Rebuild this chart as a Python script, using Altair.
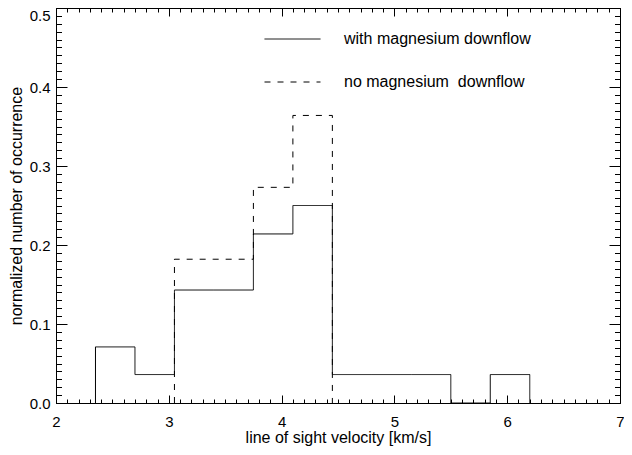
import altair as alt
import pandas as pd

# ---- data ----
SERIES = ["with magnesium downflow", "no magnesium\u00a0 downflow"]
EDGES_WITH = [2.35, 2.70, 3.05, 3.40, 3.75, 4.10, 4.45, 4.80, 5.15, 5.50, 5.85, 6.20]
VALUES_WITH = [0.071, 0.036, 0.143, 0.143, 0.214, 0.250, 0.036, 0.036, 0.036, 0.0, 0.036]
EDGES_NO = [3.05, 3.40, 3.75, 4.10, 4.45]
VALUES_NO = [0.182, 0.182, 0.273, 0.364]

X_TICKS = [2, 3, 4, 5, 6, 7]
Y_TICKS = [0.0, 0.1, 0.2, 0.3, 0.4, 0.5]
X_MINOR = [round(2 + 0.1 * k, 1) for k in range(51)]
Y_MINOR = [round(0.01 * k, 2) for k in range(51)]

FONT = "Liberation Sans"
W, H = 564, 395


def steps(edges, values, name):
    xs = [edges[0]] + list(edges)
    ys = [0.0] + list(values) + [0.0]
    return [{"v": x, "f": y, "s": name, "i": k} for k, (x, y) in enumerate(zip(xs, ys))]


df = pd.DataFrame(steps(EDGES_WITH, VALUES_WITH, SERIES[0]) + steps(EDGES_NO, VALUES_NO, SERIES[1]))

xscale = alt.Scale(domain=[2, 7], nice=False, zero=False)
yscale = alt.Scale(domain=[0, 0.5], nice=False, zero=False)

common_lab = dict(labelFont=FONT, titleFont=FONT, labelColor="black", titleColor="black",
                  titleFontWeight="normal", domain=False, grid=False)

x_main = alt.X("v:Q", scale=xscale, axis=alt.Axis(
    orient="bottom", values=X_TICKS, format="d", ticks=False, tickSize=0, labelPadding=11,
    labelFontSize=15, titleFontSize=16, title="line of sight velocity [km/s]", titlePadding=0,
    labelFlush=False, **common_lab))
y_main = alt.Y("f:Q", scale=yscale, axis=alt.Axis(
    orient="left", values=Y_TICKS, format=".1f", ticks=False, tickSize=0, labelPadding=6,
    labelFontSize=15, titleFontSize=16, title="normalized number of occurrence", titlePadding=5,
    labelBaseline={"condition": {"test": "datum.value >= 0.45", "value": "top"}, "value": "middle"},
    labelFlush=False, **common_lab))

main = alt.Chart(df).mark_line(interpolate="step-after", color="black", strokeWidth=1).encode(
    x=x_main,
    y=y_main,
    order="i:Q",
    strokeDash=alt.StrokeDash("s:N", scale=alt.Scale(domain=SERIES, range=[[1, 0], [6, 7]]),
                              legend=alt.Legend(title=None, orient="none", legendX=208, legendY=2.5,
                                                symbolType="stroke", symbolSize=3136,
                                                symbolStrokeColor="black", symbolStrokeWidth=1,
                                                labelFont=FONT, labelFontSize=16, labelColor="black",
                                                labelOffset=23, rowPadding=6, padding=0,
                                                labelLimit=400)),
)


def tick_layer(xorient, yorient, xvals, yvals, xsize, ysize):
    tc = dict(labels=False, domain=False, grid=False, title=None, tickColor="black", tickWidth=1)
    return alt.Chart(df).mark_line(opacity=0).encode(
        x=alt.X("v:Q", scale=xscale, axis=alt.Axis(orient=xorient, offset=-H, values=xvals,
                                                    tickSize=xsize, **tc)),
        y=alt.Y("f:Q", scale=yscale, axis=alt.Axis(orient=yorient, offset=-W, values=yvals,
                                                    tickSize=ysize, **tc)),
    )


layers = [
    main,
    tick_layer("top", "right", X_MINOR, Y_MINOR, 4, 5.5),    # bottom / left edges, minor, inward
    tick_layer("top", "right", X_TICKS, Y_TICKS, 8, 11),     # bottom / left edges, major, inward
    tick_layer("bottom", "left", X_MINOR, Y_MINOR, 4, 5.5),  # top / right edges, minor, inward
    tick_layer("bottom", "left", X_TICKS, Y_TICKS, 8, 11),   # top / right edges, major, inward
]

chart = alt.layer(*layers).resolve_axis(x="independent", y="independent").properties(
    width=W, height=H, autosize="none",
    padding={"left": 48, "top": 0, "right": 4, "bottom": 44},
    background="white",
).configure_view(stroke="black", strokeWidth=1)

chart.save("out.html", embed_options={"renderer": "svg", "actions": False})
